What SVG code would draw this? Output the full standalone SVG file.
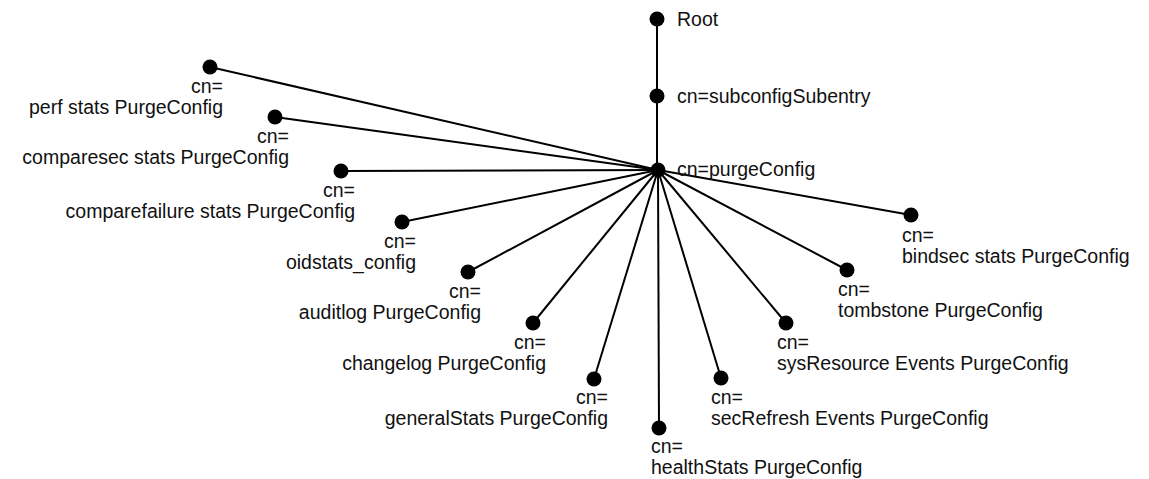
<svg xmlns="http://www.w3.org/2000/svg" width="1149" height="479" viewBox="0 0 1149 479">
<style>
.e{stroke:#000;stroke-width:2;fill:none}
.d{fill:#000}
text{font-family:"Liberation Sans",Arial,sans-serif;font-size:19.5px;fill:#111}
.l{text-anchor:end}
</style>
<rect width="1149" height="479" fill="#fff"/>
<g id="connectors">
<line class="e" x1="657" y1="19" x2="657" y2="170"/>
<line class="e" x1="658" y1="170" x2="210" y2="67"/>
<line class="e" x1="658" y1="170" x2="275" y2="117"/>
<line class="e" x1="658" y1="170" x2="341" y2="171"/>
<line class="e" x1="658" y1="170" x2="402" y2="222"/>
<line class="e" x1="658" y1="170" x2="468" y2="272"/>
<line class="e" x1="658" y1="170" x2="533" y2="323"/>
<line class="e" x1="658" y1="170" x2="594" y2="379"/>
<line class="e" x1="658" y1="170" x2="659" y2="428"/>
<line class="e" x1="658" y1="170" x2="721" y2="378"/>
<line class="e" x1="658" y1="170" x2="786" y2="323"/>
<line class="e" x1="658" y1="170" x2="847" y2="270"/>
<line class="e" x1="658" y1="170" x2="911" y2="215"/>
</g>
<g id="root"><circle class="d" cx="657" cy="19" r="7.5"/><text x="677" y="26">Root</text></g>
<g id="subconfig"><circle class="d" cx="657" cy="96" r="7.5"/><text x="677" y="103">cn=subconfigSubentry</text></g>
<g id="purgeConfig"><circle class="d" cx="658" cy="170" r="7.5"/><text x="677" y="176">cn=purgeConfig</text></g>
<g id="perf"><circle class="d" cx="210" cy="67" r="7.5"/><text class="l" x="223" y="93">cn=</text><text class="l" x="223" y="114">perf stats PurgeConfig</text></g>
<g id="comparesec"><circle class="d" cx="275" cy="117" r="7.5"/><text class="l" x="289" y="143">cn=</text><text class="l" x="289" y="164">comparesec stats PurgeConfig</text></g>
<g id="comparefailure"><circle class="d" cx="341" cy="171" r="7.5"/><text class="l" x="355" y="197">cn=</text><text class="l" x="355" y="218">comparefailure stats PurgeConfig</text></g>
<g id="oidstats"><circle class="d" cx="402" cy="222" r="7.5"/><text class="l" x="416" y="248">cn=</text><text class="l" x="416" y="269">oidstats_config</text></g>
<g id="auditlog"><circle class="d" cx="468" cy="272" r="7.5"/><text class="l" x="481" y="298">cn=</text><text class="l" x="481" y="319">auditlog PurgeConfig</text></g>
<g id="changelog"><circle class="d" cx="533" cy="323" r="7.5"/><text class="l" x="546" y="349">cn=</text><text class="l" x="546" y="370">changelog PurgeConfig</text></g>
<g id="generalStats"><circle class="d" cx="594" cy="379" r="7.5"/><text class="l" x="608" y="404">cn=</text><text class="l" x="608" y="425">generalStats PurgeConfig</text></g>
<g id="healthStats"><circle class="d" cx="659" cy="428" r="7.5"/><text x="651" y="453">cn=</text><text x="651" y="474">healthStats PurgeConfig</text></g>
<g id="secRefresh"><circle class="d" cx="721" cy="378" r="7.5"/><text x="711" y="404">cn=</text><text x="711" y="425">secRefresh Events PurgeConfig</text></g>
<g id="sysResource"><circle class="d" cx="786" cy="323" r="7.5"/><text x="777" y="349">cn=</text><text x="777" y="370">sysResource Events PurgeConfig</text></g>
<g id="tombstone"><circle class="d" cx="847" cy="270" r="7.5"/><text x="838" y="296">cn=</text><text x="838" y="317">tombstone PurgeConfig</text></g>
<g id="bindsec"><circle class="d" cx="911" cy="215" r="7.5"/><text x="902" y="242">cn=</text><text x="902" y="263">bindsec stats PurgeConfig</text></g>
</svg>
